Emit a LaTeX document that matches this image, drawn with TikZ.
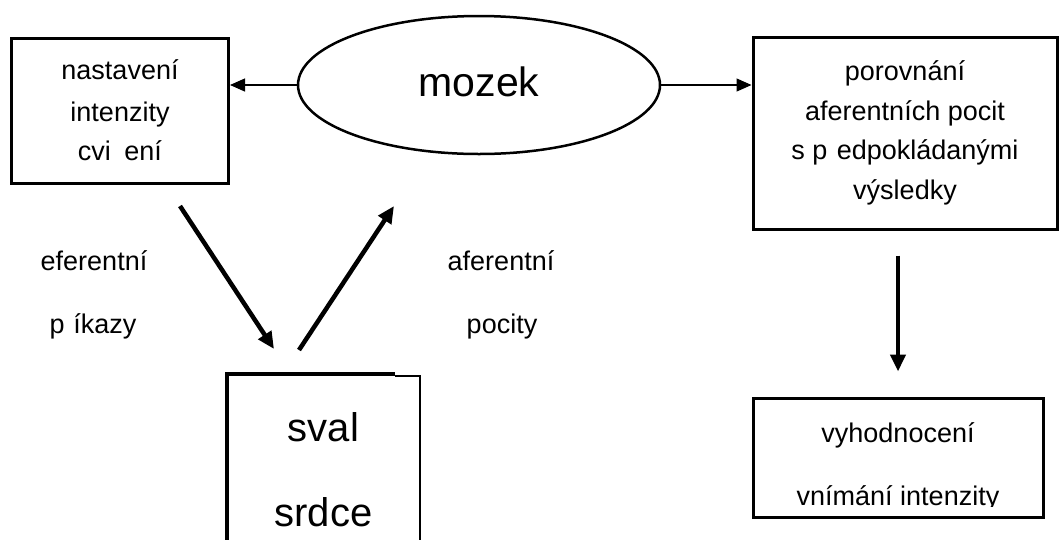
\documentclass[tikz,border=0pt]{standalone}
\usepackage{fontspec}
\setmainfont{Liberation Sans}
\usetikzlibrary{shapes.geometric,arrows.meta}
\begin{document}
\begin{tikzpicture}[x=1pt,y=-1pt,
  box/.style={draw,line width=3pt,inner sep=0pt,align=center,font=\fontsize{27}{39.5}\selectfont},
  lbl/.style={font=\fontsize{27}{32}\selectfont,inner sep=0pt,anchor=base},
  thinarrow/.style={line width=1.3pt,-{Triangle[length=15pt,width=13pt]}},
  thickarrow/.style={line width=4.5pt,-{Triangle[length=17pt,width=15pt]}}]
\useasboundingbox (0,0) rectangle (1060,539);
\clip (0,0) rectangle (1060,539);
\fill[white] (0,0) rectangle (1060,539);

% boxes
\node[box,minimum width=217pt,minimum height=145pt] (nast) at (120,110.5)
  {\raisebox{2pt}{nastavení}\\intenzity\\cvi\hspace{0.5em}ení};
\node[box,minimum width=304pt,minimum height=192pt] (cmp) at (905,133)
  {porovnání\\aferentních pocit\\s p\hspace{0.35em}edpokládanými\\výsledky};
\node[draw,ellipse,line width=2.5pt,minimum width=362pt,minimum height=138pt,inner sep=0pt,
  font=\fontsize{41}{41}\selectfont] (mozek) at (479,85) {\raisebox{6pt}{mozek}};

% bottom right box, text clipped at baseline of last line
\node[draw,line width=3pt,minimum width=290pt,minimum height=119pt,inner sep=0pt] (eval) at (898,457.5) {};
\begin{scope}
  \clip (753,398) rectangle (1043,506);
  \node[lbl] (evt1) at (898,442) {vyhodnocení};
  \node[lbl] (evt2) at (898,505) {vnímání intenzity};
\end{scope}

% sval / srdce box (bottom cut off)
\node[inner sep=0pt,minimum width=193pt,minimum height=192pt,align=center,
  font=\fontsize{40}{85}\selectfont] (sval) at (323.5,470) {sval\\srdce};
\draw[line width=3.5pt] (sval.south west) -- (sval.north west) -- ([xshift=-25pt]sval.north east);
\draw[line width=2.2pt] ([xshift=-25pt,yshift=-2pt]sval.north east) -- ([yshift=-2pt]sval.north east) -- (sval.south east);

% connectors
\draw[thinarrow] (mozek.west) -- (mozek.west -| nast.east);
\draw[thinarrow] (mozek.east) -- (mozek.east -| cmp.west);
\draw[thickarrow,shorten <=25pt,shorten >=25pt] (eval.north |- cmp.south) -- (eval.north);
\coordinate (effs) at (180,206);
\coordinate (effe) at (274,349);
\coordinate (affs) at (299,350);
\coordinate (affe) at (394,206);
\draw[thickarrow] (effs) -- (effe);
\draw[thickarrow] (affs) -- (affe);

% labels
\node[lbl] (l1) at (94,270) {eferentní};
\node[lbl] (l2) at (93,333) {p\hspace{0.33em}íkazy};
\node[lbl] (l3) at (501,270) {aferentní};
\node[lbl] (l4) at (502,333) {pocity};
\end{tikzpicture}
\end{document}
